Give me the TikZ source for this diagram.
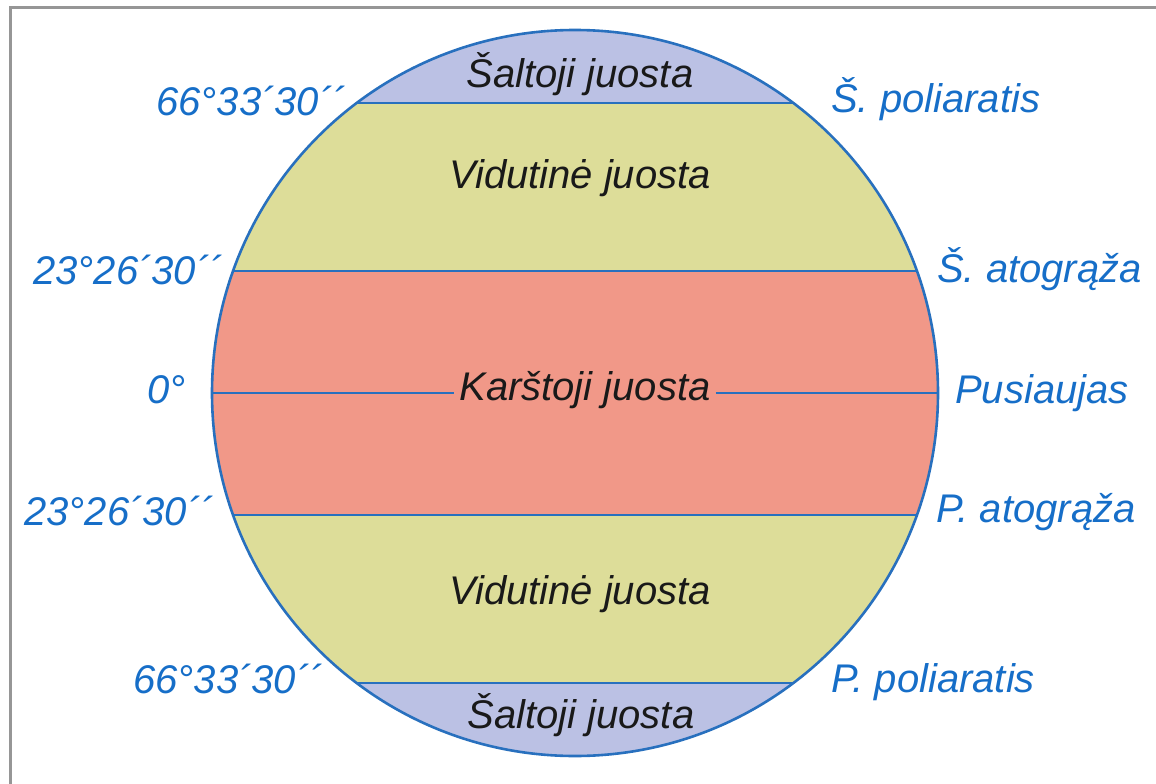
\documentclass[tikz,border=0pt]{standalone}
\usepackage{fontspec}
\setmainfont{Liberation Sans}
\definecolor{polarc}{RGB}{187,193,228}
\definecolor{temperc}{RGB}{221,221,153}
\definecolor{tropc}{RGB}{241,152,136}
\definecolor{linec}{RGB}{40,112,190}
\definecolor{labelc}{RGB}{22,110,200}
\definecolor{framec}{RGB}{150,150,150}
\definecolor{zonetext}{RGB}{25,25,25}
\tikzset{
  zone/.style={font=\fontsize{40}{40}\selectfont\itshape, text=zonetext, inner sep=0pt, anchor=base},
  lbl/.style={font=\fontsize{40}{40}\selectfont\itshape, text=labelc, inner sep=0pt},
  band/.style={draw=linec, line width=2.6pt},
}
\begin{document}
\begin{tikzpicture}[x=1pt,y=-1pt]
\useasboundingbox (0,0) rectangle (1156,784);
\fill[white] (0,0) rectangle (1156,784);
% frame
\draw[framec, line width=3pt] (10,800) -- (10,8) -- (1170,8);
% globe
\coordinate (C) at (575,393);
\begin{scope}
  \clip (C) circle[radius=363];
  \fill[polarc] (200,20) rectangle (950,103);
  \fill[temperc] (200,103) rectangle (950,271);
  \fill[tropc] (200,271) rectangle (950,515);
  \fill[temperc] (200,515) rectangle (950,683);
  \fill[polarc] (200,683) rectangle (950,770);
\end{scope}
\coordinate (pnL) at (357,103); \coordinate (pnR) at (793,103);
\coordinate (tnL) at (233,271); \coordinate (tnR) at (917,271);
\coordinate (eqL) at (212,393); \coordinate (eqR) at (938,393);
\coordinate (tsL) at (233,515); \coordinate (tsR) at (917,515);
\coordinate (psL) at (357,683); \coordinate (psR) at (793,683);
% zone names
\node[zone] (saltN) at (580,87) {Šaltoji juosta};
\node[zone] (vidN) at (580,188) {Vidutinė juosta};
\node[zone, inner xsep=5pt] (kars) at (585,400) {Karštoji juosta};
\node[zone] (vidS) at (580,604) {Vidutinė juosta};
\node[zone] (saltS) at (581,728) {Šaltoji juosta};
% lines
\draw[band] (pnL) -- (pnR);
\draw[band] (tnL) -- (tnR);
\draw[band] (eqL) -- (eqL -| kars.west);
\draw[band] (eqR -| kars.east) -- (eqR);
\draw[band] (tsL) -- (tsR);
\draw[band] (psL) -- (psR);
\draw[linec, line width=2.6pt] (C) circle[radius=363];
% labels
\node[lbl, anchor=base east] (l1) at (346,115) {66°33´30´´};
\node[lbl, anchor=base west] (r1) at (831,112) {Š. poliaratis};
\node[lbl, anchor=base east] (l2) at (223,284) {23°26´30´´};
\node[lbl, anchor=base west] (r2) at (937,282) {Š. atogrąža};
\node[lbl, anchor=base east] (l3) at (186,403) {0°};
\node[lbl, anchor=base west] (r3) at (955,403) {Pusiaujas};
\node[lbl, anchor=base east] (l4) at (214,525) {23°26´30´´};
\node[lbl, anchor=base west] (r4) at (936,522) {P. atogrąža};
\node[lbl, anchor=base east] (l5) at (323,693) {66°33´30´´};
\node[lbl, anchor=base west] (r5) at (831,692) {P. poliaratis};
\end{tikzpicture}
\end{document}
